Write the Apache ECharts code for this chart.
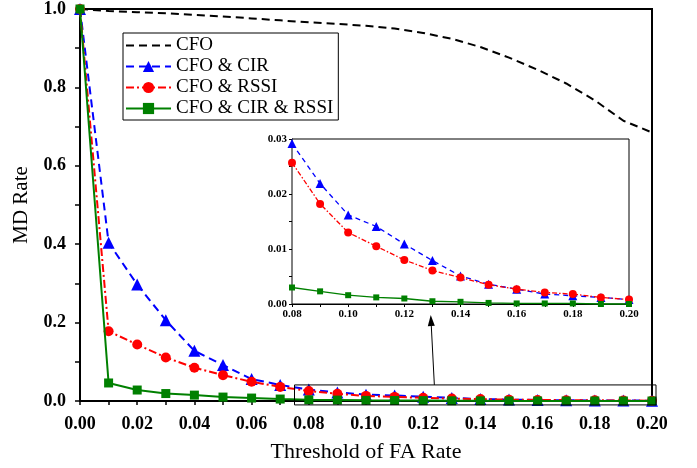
<!DOCTYPE html>
<html>
<head>
<meta charset="utf-8">
<script src="https://cdn.jsdelivr.net/npm/echarts@6/dist/echarts.min.js"></script>
<style>html,body{margin:0;padding:0;background:#fff}#c{width:697px;height:468px}</style>
</head>
<body>
<div id="c"></div>
<script>
// ---- data ----
const faRate = [0.00,0.01,0.02,0.03,0.04,0.05,0.06,0.07,0.08,0.09,0.10,0.11,0.12,0.13,0.14,0.15,0.16,0.17,0.18,0.19,0.20];
const cfo = [1.000,0.995,0.992,0.989,0.985,0.981,0.976,0.971,0.966,0.962,0.957,0.950,0.939,0.924,0.903,0.876,0.845,0.810,0.767,0.715,0.685];
const cfoCir = [1.000,0.404,0.297,0.206,0.128,0.092,0.056,0.041,0.0292,0.0219,0.0162,0.0141,0.0109,0.0079,0.0051,0.0036,0.0027,0.0018,0.0015,0.0012,0.0008];
const cfoRssi = [1.000,0.178,0.144,0.111,0.085,0.066,0.049,0.036,0.0257,0.0182,0.0130,0.0105,0.0080,0.0061,0.0048,0.0035,0.0027,0.0021,0.0018,0.0012,0.0008];
const cfoCirRssi = [1.000,0.046,0.028,0.019,0.015,0.010,0.0075,0.005,0.0030,0.0023,0.0016,0.0012,0.0010,0.0005,0.0004,0.0002,0.0001,0.0001,0.0001,0.0000,0.0000];
const seriesNames = ['CFO','CFO & CIR','CFO & RSSI','CFO & CIR & RSSI'];
const insetStart = 8; // inset begins at FA rate 0.08
const mainXTicks = ['0.00','0.02','0.04','0.06','0.08','0.10','0.12','0.14','0.16','0.18','0.20'];
const mainYTicks = ['0.0','0.2','0.4','0.6','0.8','1.0'];
const insetXTicks = ['0.08','0.10','0.12','0.14','0.16','0.18','0.20'];
const insetYTicks = ['0.00','0.01','0.02','0.03'];
// zoom window shown in the main plot
const zoomBox = {x0:0.075, x1:0.2014, y0:-0.010, y1:0.041};

const pairs = (ys, from) => ys.slice(from||0).map((y,i)=>[faRate[i+(from||0)], y]);
const FONT = 'Liberation Serif';
const BLUE = '#0000ff', RED = '#ff0000', GREEN = '#008000';

const fmtFrom = list => v => { const s = list.find(t => Math.abs(parseFloat(t) - v) < 1e-9); return s || ''; };

const chart = echarts.init(document.getElementById('c'), null, {renderer:'canvas'});

const mainSeriesStyle = [
  {color:'#000', type:[8,5], width:2, symbol:'none', size:0},
  {color:BLUE, type:[8,5], width:2, symbol:'triangle', size:12},
  {color:RED, type:[8,3,2,3], width:2, symbol:'circle', size:10},
  {color:GREEN, type:'solid', width:2, symbol:'rect', size:9}
];
const insetStyle = [
  null,
  {color:BLUE, type:[5,4], width:1.3, symbol:'triangle', size:9},
  {color:RED, type:[5,2,1.5,2], width:1.3, symbol:'circle', size:8},
  {color:GREEN, type:'solid', width:1.3, symbol:'rect', size:6}
];
const dataSets = [cfo, cfoCir, cfoRssi, cfoCirRssi];

const series = [];
dataSets.forEach((d,i)=>{
  const s = mainSeriesStyle[i];
  series.push({
    name: seriesNames[i], type:'line', xAxisIndex:0, yAxisIndex:0,
    data: pairs(d), symbol: s.symbol, symbolSize: s.size, showSymbol: s.symbol!=='none',
    clip:false, animation:false, z: 3+i,
    lineStyle:{color:s.color, type:s.type, width:s.width},
    itemStyle:{color:s.color}
  });
});
dataSets.forEach((d,i)=>{
  const s = insetStyle[i];
  if (!s) return;
  series.push({
    name: seriesNames[i], type:'line', xAxisIndex:1, yAxisIndex:1,
    data: pairs(d, insetStart), symbol: s.symbol, symbolSize: s.size,
    clip:false, animation:false, z: 20+i,
    lineStyle:{color:s.color, type:s.type, width:s.width},
    itemStyle:{color:s.color}
  });
});

const axisCommon = (w) => ({
  axisLine:{show:true, onZero:false, lineStyle:{color:'#000', width:w}},
  splitLine:{show:false}
});

const legendData = seriesNames.map((n,i) => i === 0
  ? {name:n, itemStyle:{color:'rgba(0,0,0,0)', borderWidth:0, borderColor:'rgba(0,0,0,0)'}}
  : {name:n});

chart.setOption({
  backgroundColor:'#fff',
  animation:false,
  textStyle:{fontFamily:FONT},
  grid:[
    {left:80, right:45, top:7, bottom:66, show:true, borderColor:'#000', borderWidth:2, backgroundColor:'transparent'},
    {left:292, top:139, width:337, height:165, show:true, borderColor:'#000', borderWidth:1, backgroundColor:'#fff', z:10}
  ],
  legend:{
    data: legendData, orient:'vertical', left:123, top:33,
    itemWidth:45, itemHeight:14, itemGap:2,
    backgroundColor:'#fff', borderColor:'#000', borderWidth:1, padding:[3,5,2,2],
    borderRadius:0,
    textStyle:{fontFamily:FONT, fontSize:19, color:'#000', lineHeight:19},
    selectedMode:false
  },
  xAxis:[
    Object.assign(axisCommon(2), {
      type:'value', gridIndex:0, min:0, max:0.2, interval:0.01,
      name:'Threshold of FA Rate', nameLocation:'middle', nameGap:40,
      nameTextStyle:{fontFamily:FONT, fontSize:22, color:'#000'},
      axisTick:{show:true, inside:false, length:4, lineStyle:{color:'#000', width:1.5}},
      axisLabel:{formatter:fmtFrom(mainXTicks), fontFamily:FONT, fontSize:18, fontWeight:'bold', color:'#000', margin:14}
    }),
    Object.assign(axisCommon(1), {
      type:'value', gridIndex:1, min:0.08, max:0.2, interval:0.01,
      axisTick:{show:true, inside:false, length:3, lineStyle:{color:'#000', width:1}},
      axisLabel:{formatter:fmtFrom(insetXTicks), fontFamily:FONT, fontSize:11, fontWeight:'bold', color:'#000', margin:5}
    })
  ],
  yAxis:[
    Object.assign(axisCommon(2), {
      type:'value', gridIndex:0, min:0, max:1, interval:0.1,
      name:'MD Rate', nameLocation:'middle', nameGap:48,
      nameTextStyle:{fontFamily:FONT, fontSize:21, color:'#000'},
      axisTick:{show:true, inside:false, length:5, lineStyle:{color:'#000', width:1.5}},
      axisLabel:{formatter:fmtFrom(mainYTicks), fontFamily:FONT, fontSize:18, fontWeight:'bold', color:'#000', margin:14}
    }),
    Object.assign(axisCommon(1), {
      type:'value', gridIndex:1, min:0, max:0.03, interval:0.005,
      axisTick:{show:true, inside:false, length:3, lineStyle:{color:'#000', width:1}},
      axisLabel:{formatter:fmtFrom(insetYTicks), fontFamily:FONT, fontSize:11, fontWeight:'bold', color:'#000', margin:5}
    })
  ],
  series: series
});

// annotations: zoom window in main plot, arrow to the inset
const p0 = chart.convertToPixel({gridIndex:0}, [zoomBox.x0, zoomBox.y1]);
const p1 = chart.convertToPixel({gridIndex:0}, [zoomBox.x1, zoomBox.y0]);
const arrowStart = chart.convertToPixel({gridIndex:0}, [0.1239, zoomBox.y1]);
const arrowEndBase = chart.convertToPixel({gridIndex:1}, [0.1294, 0]);
const tip = [arrowEndBase[0], arrowEndBase[1] + 11];
const dx = tip[0]-arrowStart[0], dy = tip[1]-arrowStart[1];
const L = Math.sqrt(dx*dx+dy*dy), ux = dx/L, uy = dy/L;
const hl = 11, hw = 3.5;
const base = [tip[0]-ux*hl, tip[1]-uy*hl];
chart.setOption({
  graphic:[
    {type:'rect', shape:{x:p0[0], y:p0[1], width:p1[0]-p0[0], height:p1[1]-p0[1]},
     style:{fill:'none', stroke:'#000', lineWidth:1}, z:30, silent:true},
    {type:'line', shape:{x1:arrowStart[0], y1:arrowStart[1], x2:base[0], y2:base[1]},
     style:{stroke:'#000', lineWidth:1}, z:30, silent:true},
    {type:'polygon', shape:{points:[tip, [base[0]-uy*hw, base[1]+ux*hw], [base[0]+uy*hw, base[1]-ux*hw]]},
     style:{fill:'#000'}, z:30, silent:true}
  ]
});
</script>
</body>
</html>
